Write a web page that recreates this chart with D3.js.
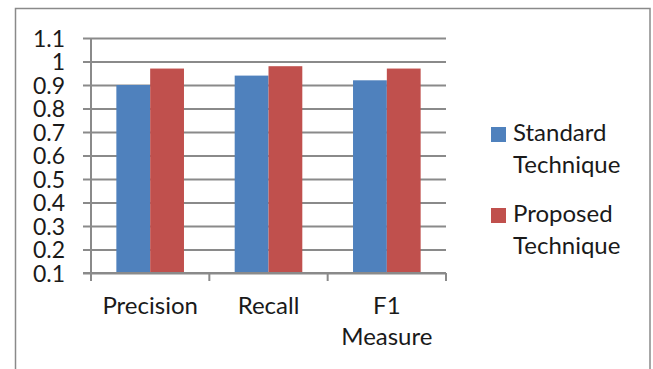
<!DOCTYPE html>
<html>
<head>
<meta charset="utf-8">
<script src="https://cdn.jsdelivr.net/npm/d3@7"></script>
<style>
  html, body { margin: 0; padding: 0; background: #fff; }
  svg { display: block; }
  text { font-family: Lato, "Open Sans", sans-serif; fill: #1a1a1a; }
</style>
</head>
<body>
<svg id="chart" width="653" height="369"></svg>
<script>
// Evaluation metrics for the two techniques
const categories = ["Precision", "Recall", "F1 Measure"];
const seriesNames = ["Standard Technique", "Proposed Technique"];
const standardValues = [0.90, 0.94, 0.92];
const proposedValues = [0.97, 0.98, 0.97];
const yTicks = [0.1, 0.2, 0.3, 0.4, 0.5, 0.6, 0.7, 0.8, 0.9, 1, 1.1];
const colors = ["#4F81BD", "#C0504D"];

const svg = d3.select("#chart");
const plot = { left: 91, right: 446, top: 38, bottom: 273 };
const gridColor = "#8a8a8a";
const labelSize = 24;
const tickSize = 23;

// outer chart frame
svg.append("rect")
  .attr("x", 15.5).attr("y", 8.5)
  .attr("width", 650 - 15.5).attr("height", 400)
  .attr("fill", "#fff").attr("stroke", gridColor).attr("stroke-width", 1.5);

const y = d3.scaleLinear().domain([0.1, 1.1]).range([plot.bottom, plot.top]);
const x = d3.scaleBand().domain(categories).range([plot.left, plot.right]).padding(0);
const xs = d3.scaleBand().domain(seriesNames).range([0, x.bandwidth()])
  .paddingInner(0).paddingOuter(0.75);

// horizontal gridlines + y axis
const yAxis = d3.axisLeft(y)
  .tickValues(yTicks)
  .tickSize(8)
  .tickFormat(d => d3.format("")(+d.toFixed(1)));
const gy = svg.append("g")
  .attr("transform", `translate(${plot.left},0)`)
  .call(yAxis);
gy.select(".domain").attr("stroke", gridColor).attr("stroke-width", 2)
  .attr("d", `M0,${plot.top}V${plot.bottom}`);
gy.selectAll(".tick line").attr("stroke", gridColor).attr("stroke-width", 2)
  .attr("x1", -8).attr("x2", plot.right - plot.left);
gy.selectAll(".tick text")
  .attr("x", -26)
  .attr("dy", "0.35em")
  .style("font-size", tickSize + "px")
  .style("font-family", "Lato, sans-serif")
  .attr("fill", "#1a1a1a");

// bars
const rows = categories.map((c, i) => ({ cat: c, vals: [standardValues[i], proposedValues[i]] }));
const groups = svg.append("g").selectAll("g")
  .data(rows).join("g")
  .attr("transform", d => `translate(${x(d.cat)},0)`);
groups.selectAll("rect")
  .data(d => d.vals.map((v, j) => ({ name: seriesNames[j], v, j })))
  .join("rect")
  .attr("x", d => xs(d.name))
  .attr("width", xs.bandwidth())
  .attr("y", d => y(d.v))
  .attr("height", d => y(0.1) - y(d.v))
  .attr("fill", d => colors[d.j]);

// category axis
const xAxis = d3.axisBottom(x).tickSize(0).tickFormat("");
const gx = svg.append("g")
  .attr("transform", `translate(0,${plot.bottom})`)
  .call(xAxis);
gx.select(".domain").attr("stroke", gridColor).attr("stroke-width", 2)
  .attr("d", `M${plot.left - 8},0H${plot.right}`);
gx.selectAll(".tick").remove();
const boundaries = categories.map(c => x(c)).concat([x(categories[categories.length - 1]) + x.bandwidth()]);
gx.selectAll("line.sep")
  .data(boundaries).join("line")
  .attr("class", "sep")
  .attr("x1", d => d).attr("x2", d => d)
  .attr("y1", 0).attr("y2", 8)
  .attr("stroke", gridColor).attr("stroke-width", 2);

// category labels (wrapped onto lines)
const catLabels = svg.append("g").selectAll("text")
  .data(categories).join("text")
  .attr("x", d => x(d) + x.bandwidth() / 2)
  .attr("y", 314)
  .attr("text-anchor", "middle")
  .style("font-size", labelSize + "px");
catLabels.each(function(d) {
  const words = d === "F1 Measure" ? ["F1", "Measure"] : [d];
  d3.select(this).selectAll("tspan").data(words).join("tspan")
    .attr("x", x(d) + x.bandwidth() / 2)
    .attr("dy", (w, i) => i === 0 ? 0 : 31)
    .text(w => w);
});

// legend
const legend = svg.append("g");
const legendTop = [141, 222];
seriesNames.forEach((name, i) => {
  const g = legend.append("g");
  g.append("rect")
    .attr("x", 491).attr("y", legendTop[i] - 14)
    .attr("width", 15).attr("height", 15)
    .attr("fill", colors[i]);
  const parts = name.split(" ");
  const t = g.append("text")
    .attr("x", 513).attr("y", legendTop[i])
    .style("font-size", labelSize + "px");
  t.selectAll("tspan").data(parts).join("tspan")
    .attr("x", 513)
    .attr("dy", (w, k) => k === 0 ? 0 : 32)
    .text(w => w);
});
</script>
</body>
</html>
